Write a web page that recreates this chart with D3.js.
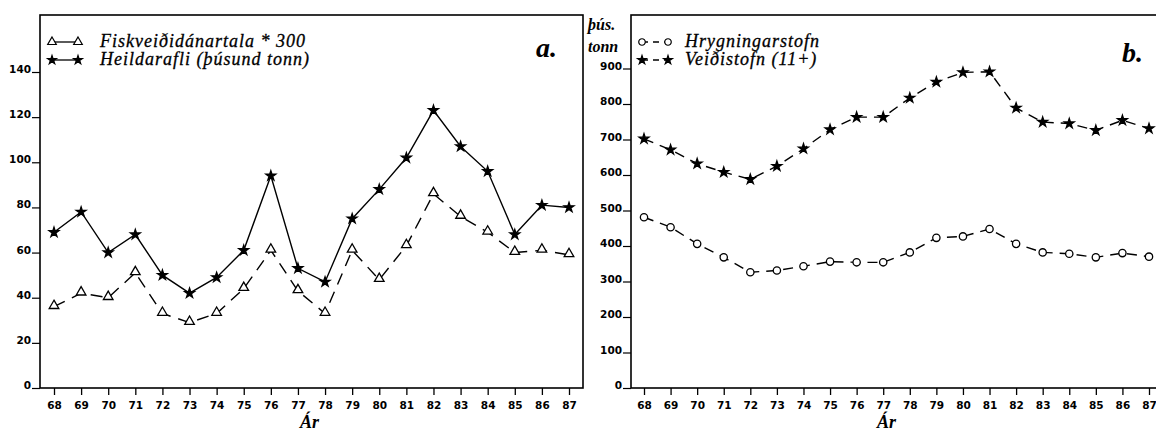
<html>
<head>
<script src="https://d3js.org/d3.v7.min.js"></script>
<style>
body{margin:0;background:#fff}
.tick text{font-family:"DejaVu Sans";font-weight:bold;font-size:10.5px;fill:#000}
.serif{font-family:"Liberation Serif";font-style:italic}
</style>
</head>
<body>
<script>
var years=["68","69","70","71","72","73","74","75","76","77","78","79","80","81","82","83","84","85","86","87"];
var fiskveidi=[36,42,40,51,33,29,33,44,61,43,33,61,48,63,86,76,69,60,61,59];
var heildarafli=[69,78,60,68,50,42,49,61,94,53,47,75,88,102,123,107,96,68,81,80];
var hrygning=[481,453,406,368,326,331,343,356,354,354,382,423,427,448,406,382,378,368,380,370];
var veidistofn=[702,671,632,608,588,625,674,728,763,763,817,862,889,891,789,749,745,726,754,731];
var ticksA=[0,20,40,60,80,100,120,140];
var ticksB=[0,100,200,300,400,500,600,700,800,900];

var W=1156,H=431;
var svg=d3.select("body").append("svg").attr("width",W).attr("height",H);

function panel(o){
	var g=svg.append("g");
	var x=d3.scalePoint().domain(years).range(o.xr);
	var y=d3.scaleLinear().domain([0,o.ymax]).range([388,o.ytop]);

	// frame
	g.append("rect").attr("x",o.box[0]).attr("y",15).attr("width",o.box[1]-o.box[0]).attr("height",388-15)
		.attr("fill","none").attr("stroke","#000").attr("stroke-width",1.6);

	var xa=g.append("g").attr("transform","translate(0,388)")
		.call(d3.axisBottom(x).tickSize(7).tickPadding(7));
	xa.select(".domain").remove();
	xa.selectAll("line").attr("stroke","#000").attr("stroke-width",1.3);

	var ya=g.append("g").attr("transform","translate("+o.box[0]+",0)")
		.call(d3.axisLeft(y).tickValues(o.ticks).tickSize(8).tickPadding(1));
	ya.select(".domain").remove();
	ya.selectAll("line").attr("stroke","#000").attr("stroke-width",1.2);
	ya.selectAll("text").attr("dy","0.05em");

	o.series.forEach(function(s){
		var line=d3.line().x(function(d,i){return x(years[i]);}).y(function(d){return y(d);});
		g.append("path").datum(s.values).attr("d",line).attr("fill","none")
			.attr("stroke","#000").attr("stroke-width",1.4).attr("stroke-dasharray",s.dash);
		g.selectAll(null).data(s.values).enter().append("path")
			.attr("transform",function(d,i){return "translate("+x(years[i])+","+(y(d)+s.off)+")";})
			.attr("d",d3.symbol().type(s.sym).size(s.size))
			.attr("fill",s.fill?"#000":"#fff").attr("stroke","#000").attr("stroke-width",1.3);
	});

	// legend
	o.series.forEach(function(s,k){
		var ly=o.leg[1]+k*18;
		g.append("line").attr("x1",o.leg[0]).attr("x2",o.leg[0]+26).attr("y1",ly).attr("y2",ly)
			.attr("stroke","#000").attr("stroke-width",1.3).attr("stroke-dasharray",s.legDash);
		[0,26].forEach(function(dx){
			g.append("path").attr("transform","translate("+(o.leg[0]+dx)+","+ly+")")
				.attr("d",d3.symbol().type(s.sym).size(s.size*0.8))
				.attr("fill",s.fill?"#000":"#fff").attr("stroke","#000").attr("stroke-width",1.2);
		});
		g.append("text").attr("class","serif").attr("x",o.leg[0]+o.legGap).attr("y",ly+5)
			.style("font-size","18px").style("letter-spacing","1px")
			.attr("stroke","#000").attr("stroke-width",0.3).text(s.name);
	});

	g.append("text").attr("class","serif").attr("x",o.label[0]).attr("y",o.label[1])
		.style("font-size","28px").style("font-weight","bold").text(o.labelText);
	g.append("text").attr("class","serif").attr("x",o.ar).attr("y",428)
		.style("font-size","18px").style("font-weight","bold").text("Ár");
	return g;
}

panel({xr:[54,569],box:[40,583],ymax:140*(388-15)/(388-72),ytop:15,ticks:ticksA,
	leg:[52,42],legGap:48,label:[536,57],labelText:"a.",ar:300,
	series:[
		{name:"Fiskveiðidánartala * 300",values:fiskveidi,sym:d3.symbolTriangle,size:40,fill:false,dash:"12,8",legDash:null,off:-1},
		{name:"Heildarafli (þúsund tonn)",values:heildarafli,sym:d3.symbolStar,size:30,fill:true,dash:null,legDash:null,off:0}
	]});

var pb=panel({xr:[644,1149],box:[631,1158],ymax:900*(388-15)/(388-68.5),ytop:15,ticks:ticksB,
	leg:[642,42],legGap:43,label:[1122,62],labelText:"b.",ar:877,
	series:[
		{name:"Hrygningarstofn",values:hrygning,sym:d3.symbolCircle,size:42,fill:false,dash:"10,7",legDash:"6,5",off:0},
		{name:"Veiðistofn (11+)",values:veidistofn,sym:d3.symbolStar,size:30,fill:true,dash:"10,7",legDash:"6,5",off:0}
	]});

pb.append("text").attr("class","serif").attr("x",588).attr("y",30)
	.style("font-size","16px").style("font-weight","bold").text("þús.");
pb.append("text").attr("class","serif").attr("x",588).attr("y",52)
	.style("font-size","16px").style("font-weight","bold").text("tonn");
</script>
</body>
</html>
